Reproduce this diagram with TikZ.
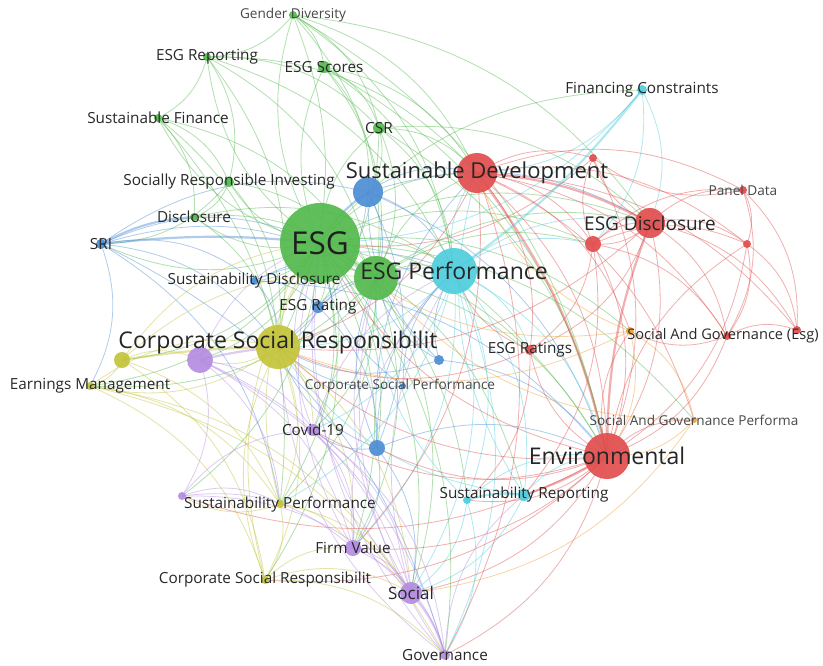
\documentclass[tikz,border=0pt]{standalone}
\usepackage{fontspec}
\setmainfont{Open Sans}
\definecolor{cgreen}{RGB}{84,186,78}
\definecolor{cblue}{RGB}{78,142,212}
\definecolor{ccyan}{RGB}{80,206,222}
\definecolor{cred}{RGB}{226,78,78}
\definecolor{corange}{RGB}{242,160,50}
\definecolor{cyellow}{RGB}{196,196,58}
\definecolor{cpurple}{RGB}{180,140,226}
\definecolor{ctext}{RGB}{40,40,40}
\tikzset{
  vnode/.style={circle, inner sep=0pt, fill opacity=0.92, draw=none},
  edge/.style={line width=0.8pt, draw opacity=0.45, bend left=24},
  thick edge/.style={line width=2.2pt, draw opacity=0.45, bend left=12},
  lab/.style={text=ctext, inner sep=0pt, font=\fontsize{15.3}{15.3}\selectfont},
  labs/.style={lab, font=\fontsize{13.6}{13.6}\selectfont, text=ctext!85},
  labm/.style={lab, font=\fontsize{15.3}{15.3}\selectfont},
  labl/.style={lab, font=\fontsize{23}{23}\selectfont, text=black!85},
}
\begin{document}
\begin{tikzpicture}[x=1pt,y=-1pt]
\useasboundingbox (0,0) rectangle (823,665);
\clip (0,0) rectangle (823,665);
\fill[white] (0,0) rectangle (823,665);
% ---------- nodes (coordinates) ----------
\foreach \n/\x/\y/\r/\c in {
 esg/320/243/40/cgreen, gper/376/278/22/cgreen, gend/293/15/4/cgreen, grep/207/57/4/cgreen,
 gsco/324/67/6/cgreen, gfin/158/118/4/cgreen, csr/379/128/6/cgreen, sriinv/229/182/5/cgreen,
 disc/194/217/4/cgreen,
 bsd/368/192/15/cblue, sri/101/244/5/cblue, sdis/254/281/4/cblue, erat/318/307/6/cblue,
 bone/439/360/5/cblue, csp/403/386/3/cblue, btwo/377/448/8/cblue,
 eper/454/271/23/ccyan, fc/642/90/5/ccyan, srone/467/500/4/ccyan, srtwo/524/495/6/ccyan,
 sd/477/173/20/cred, edis/650/223/15/cred, rone/593/158/4/cred, rtwo/593/244/8/cred,
 pd/743/190/4/cred, rthree/747/244/4/cred, sg/727/336/4/cred, rfour/797/330/4/cred,
 erats/530/350/5/cred, env/607/456/23/cred,
 oone/630/331/4/corange, sgp/694/420/3/corange,
 csrb/278/347/22/cyellow, yone/122/360/8/cyellow, em/90/386/4/cyellow, sp/280/504/4/cyellow,
 csrs/265/580/4/cyellow,
 pone/200/360/13/cpurple, cov/313/430/6/cpurple, ptwo/182/496/4/cpurple, fv/353/548/8/cpurple,
 soc/411/593/11/cpurple, gov/445/655/5/cpurple}
 { \coordinate (\n) at (\x,\y); \expandafter\xdef\csname col@\n\endcsname{\c}\expandafter\xdef\csname rad@\n\endcsname{\r} }
% ---------- edges ----------
\foreach \a/\b in {esg/gend,esg/grep,esg/gsco,esg/gfin,esg/csr,esg/sriinv,esg/disc,esg/sdis,esg/erat,
  esg/yone,esg/em,esg/sp,esg/csrs,esg/pone,esg/cov,esg/ptwo,esg/fv,esg/soc,esg/gov,esg/sd,esg/edis,
  esg/rtwo,esg/env,esg/eper,esg/btwo,esg/srone,esg/srtwo,esg/erats,esg/oone,esg/sgp,esg/fc,esg/sri,
  gend/grep,gend/gsco,gend/csr,gend/sd,gend/eper,gend/gper,gend/env,gend/csrb,gend/edis,
  grep/gfin,grep/sriinv,grep/gper,grep/eper,grep/csr,grep/sd,grep/csrb,
  gsco/csr,gsco/bsd,gsco/gper,gsco/eper,gsco/sd,gsco/env,
  gfin/sriinv,gfin/disc,gfin/gper,gfin/csrb,gfin/sp,
  csr/bsd,csr/gper,csr/eper,csr/sd,csr/env,csr/csrb,csr/edis,
  sriinv/disc,sriinv/sri,sriinv/gper,sriinv/csrb,disc/gper,disc/eper,disc/csrb,
  gper/sd,gper/edis,gper/env,gper/csrb,gper/eper,gper/fv,gper/soc,gper/sp,gper/em,gper/rtwo,gper/cov}
  {\draw[edge, cgreen] (\a) to (\b);}
\foreach \a/\b in {sri/esg,sri/sdis,sri/gper,sri/csrb,sri/bsd,sri/em,sri/sp,sri/gov,
  sdis/erat,sdis/gper,sdis/csrb,sdis/eper,sdis/env,
  bsd/gper,bsd/eper,bsd/sd,bone/bsd,bsd/btwo,bsd/csrb,bsd/env,bsd/edis,
  erat/gper,erat/csrb,erat/btwo,erat/eper,bone/eper,bone/csrb,bone/env,bone/gper,
  btwo/eper,btwo/csrb,btwo/gper,btwo/env,btwo/cov,btwo/fv,btwo/soc,btwo/sd,csp/csrb,csp/esg,csp/eper}
  {\draw[edge, cblue] (\a) to (\b);}
\foreach \a/\b in {eper/srone,eper/srtwo,eper/env,eper/sd,eper/edis,eper/csrb,eper/soc,eper/fv,
  eper/rtwo,eper/erats,eper/gov,eper/sp,eper/cov,fc/sd,fc/rtwo,fc/edis,fc/esg,
  srone/env,srone/soc,srone/gov,srone/gper,srtwo/env,srtwo/soc,srtwo/csrb,srtwo/sd}
  {\draw[edge, ccyan] (\a) to (\b);}
\foreach \a/\b in {sd/rone,sd/rtwo,sd/pd,sd/rthree,sd/sg,sd/env,sd/erats,sd/csrb,sd/gov,sd/oone,
  sd/sgp,sd/fv,sd/rfour,edis/rone,edis/rtwo,edis/pd,edis/rthree,edis/sg,edis/rfour,edis/env,edis/erats,
  edis/csrb,rtwo/rone,rtwo/pd,rtwo/rthree,rtwo/sg,rtwo/env,rtwo/erats,rtwo/edis,rtwo/srtwo,
  pd/rthree,pd/sg,pd/rfour,pd/rone,rthree/sg,rthree/rfour,rthree/env,sg/rfour,sg/env,sg/oone,
  env/erats,env/sgp,env/oone,env/soc,env/gov,env/srone,env/esg,env/csrb,env/fv,env/cov,env/btwo,
  env/ptwo,env/csrs,env/rthree,erats/eper,erats/csrb,erats/srone,rone/env,rone/esg}
  {\draw[edge, cred] (\a) to (\b);}
\foreach \a/\b in {oone/env,oone/sgp,oone/csrb,oone/esg,sgp/env,sgp/soc,sgp/gper,oone/sd}
  {\draw[edge, corange] (\a) to (\b);}
\foreach \a/\b in {csrb/em,csrb/sp,csrb/csrs,csrb/pone,csrb/cov,csrb/esg,csrb/fv,csrb/soc,
  yone/em,yone/pone,yone/esg,yone/sp,yone/csrs,yone/gper,em/csrb,em/sp,em/csrs,em/soc,em/gov,
  sp/csrs,sp/fv,sp/soc,sp/esg,sp/ptwo,csrs/soc,csrs/fv,csrs/esg,csrs/csrb,csrs/gov}
  {\draw[edge, cyellow] (\a) to (\b);}
\foreach \a/\b in {pone/cov,pone/fv,pone/soc,pone/gov,pone/ptwo,pone/esg,pone/sp,
  cov/fv,cov/soc,cov/gov,cov/esg,cov/eper,ptwo/sp,ptwo/fv,ptwo/soc,ptwo/cov,
  fv/soc,fv/gov,fv/esg,fv/eper,soc/eper,soc/esg,soc/gper,gov/esg,gov/gper,gov/csrb,gov/srtwo}
  {\draw[edge, cpurple] (\a) to (\b);}
% thick links
\draw[thick edge, cblue] (esg) to (bsd);
\draw[thick edge, cblue] (sri) to (disc);
\draw[thick edge, cblue, bend left=6] (sri) to (esg);
\draw[thick edge, cred] (sd) to (edis);
\draw[thick edge, cred] (sd) to (env);
\draw[thick edge, cred, bend right=10] (edis) to (env);
\draw[thick edge, ccyan, bend right=8] (eper) to (fc);
\draw[thick edge, ccyan] (srone) to (srtwo);
\draw[thick edge, cyellow, bend left=4] (yone) to (csrb);
\draw[thick edge, cpurple, bend left=4] (pone) to (csrb);
\draw[thick edge, cpurple] (soc) to (gov);
\draw[thick edge, cgreen, bend left=4] (esg) to (gper);
\draw[thick edge, cred, bend left=6] (env) to (srtwo);
% ---------- circles ----------
\foreach \n in {esg,gper,gend,grep,gsco,gfin,csr,sriinv,disc,bsd,sri,sdis,erat,bone,csp,btwo,
  eper,fc,srone,srtwo,sd,edis,rone,rtwo,pd,rthree,sg,rfour,erats,env,oone,sgp,
  csrb,yone,em,sp,csrs,pone,cov,ptwo,fv,soc,gov}
  {\node[vnode, fill=\csname col@\n\endcsname, minimum size=2*\csname rad@\n\endcsname pt] (n-\n) at (\n) {};}
% ---------- labels ----------
\node[lab, font=\fontsize{31.5}{31.5}\selectfont, text=black!88] (l-esg) at (esg) {ESG};
\node[labl] (l-eper) at (eper) {ESG Performance};
\node[labl, font=\fontsize{22}{22}\selectfont] (l-sd) at (sd) {Sustainable Development};
\node[labl] (l-csrb) at ([yshift=4]csrb) {Corporate Social Responsibilit};
\node[labl] (l-env) at (env) {Environmental};
\node[lab, font=\fontsize{19}{19}\selectfont] (l-edis) at (edis) {ESG Disclosure};
\node[lab, font=\fontsize{17}{17}\selectfont] (l-soc) at (soc) {Social};
\node[labs] (l-gend) at (gend) {Gender Diversity};
\node[labm] (l-grep) at (grep) {ESG Reporting};
\node[labm] (l-gsco) at (gsco) {ESG Scores};
\node[labm] (l-gfin) at (gfin) {Sustainable Finance};
\node[labm] (l-csr) at (csr) {CSR};
\node[labm] (l-sriinv) at (sriinv) {Socially Responsible Investing};
\node[labm] (l-disc) at (disc) {Disclosure};
\node[labm] (l-sri) at (sri) {SRI};
\node[labm] (l-sdis) at (sdis) {Sustainability Disclosure};
\node[labm] (l-erat) at (erat) {ESG Rating};
\node[labs] (l-csp) at ([xshift=-3]csp) {Corporate Social Performance};
\node[labm] (l-fc) at (fc) {Financing Constraints};
\node[labm] (l-sr) at (srtwo) {Sustainability Reporting};
\node[labs] (l-pd) at (pd) {Panel Data};
\node[labm, font=\fontsize{14.6}{14.6}\selectfont] (l-sg) at ([xshift=-4]sg) {Social And Governance (Esg)};
\node[labm] (l-erats) at (erats) {ESG Ratings};
\node[labs] (l-sgp) at (sgp) {Social And Governance Performa};
\node[labm] (l-em) at (em) {Earnings Management};
\node[labm] (l-sp) at (sp) {Sustainability Performance};
\node[labm] (l-csrs) at (csrs) {Corporate Social Responsibilit};
\node[labm] (l-cov) at (cov) {Covid-19};
\node[labm] (l-fv) at (fv) {Firm Value};
\node[labm] (l-gov) at (gov) {Governance};
\end{tikzpicture}
\end{document}
